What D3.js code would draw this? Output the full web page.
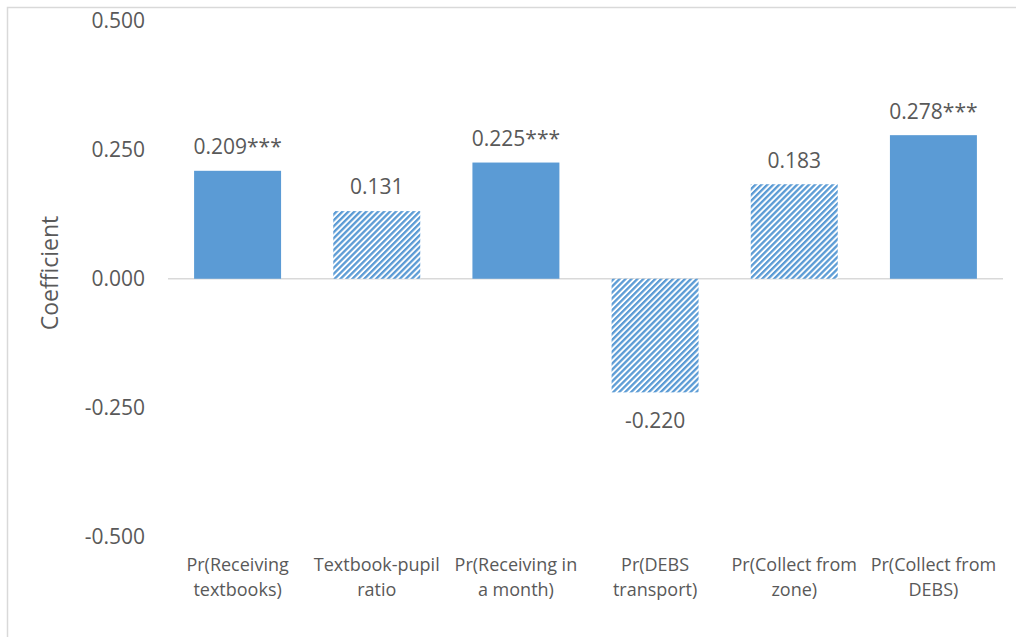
<!DOCTYPE html>
<html><head><meta charset="utf-8">
<script src="https://cdn.jsdelivr.net/npm/d3@7"></script>
<style>body{margin:0;background:#fff}svg{display:block}text{font-family:"Open Sans",sans-serif;fill:#595959}</style>
</head><body><svg id="c" width="1016" height="637"></svg>
<script>
const categories = [["Pr(Receiving","textbooks)"],["Textbook-pupil","ratio"],["Pr(Receiving in","a month)"],["Pr(DEBS","transport)"],["Pr(Collect from","zone)"],["Pr(Collect from","DEBS)"]];
const values = [0.209, 0.131, 0.225, -0.220, 0.183, 0.278];
const labels = ["0.209***","0.131","0.225***","-0.220","0.183","0.278***"];
const significant = [true,false,true,false,false,true];
const yTicks = [-0.5,-0.25,0,0.25,0.5];

const svg = d3.select("#c");
const color="#5B9BD5";
const defs=svg.append("defs");
const pat=defs.append("pattern").attr("id","hatch").attr("patternUnits","userSpaceOnUse")
  .attr("width",4.2).attr("height",10).attr("patternTransform","rotate(45)");
pat.append("rect").attr("width",4.2).attr("height",10).attr("fill","#fff");
pat.append("rect").attr("width",2.3).attr("height",10).attr("fill",color);

// outer frame
svg.append("rect").attr("x",7.5).attr("y",7.5).attr("width",1100).attr("height",800)
  .attr("fill","none").attr("stroke","#D9D9D9").attr("stroke-width",1.5);

const x=d3.scaleBand().domain(d3.range(categories.length)).range([168,1003]).paddingInner(0.375).paddingOuter(0.1875);
const y=d3.scaleLinear().domain([-0.5,0.5]).range([537,20.5]);

// zero line
svg.append("line").attr("x1",168).attr("x2",1003).attr("y1",y(0)).attr("y2",y(0))
  .attr("stroke","#D9D9D9").attr("stroke-width",1.5);

// y ticks
svg.append("g").selectAll("text").data(yTicks).join("text")
  .attr("x",145).attr("y",d=>y(d)).attr("dy","0.35em").attr("text-anchor","end")
  .style("font-size","21px").text(d=>d3.format(".3f")(d).replace("−","-"));

// bars
svg.append("g").selectAll("rect").data(values).join("rect")
  .attr("x",(d,i)=>x(i)).attr("width",x.bandwidth())
  .attr("y",d=>y(Math.max(0,d))).attr("height",d=>Math.abs(y(d)-y(0)))
  .attr("fill",(d,i)=>significant[i]?color:"url(#hatch)");

// data labels
svg.append("g").selectAll("text").data(values).join("text")
  .attr("x",(d,i)=>x(i)+x.bandwidth()/2)
  .attr("y",d=>d>=0? y(d)-24 : y(d)+28).attr("dy","0.35em").attr("text-anchor","middle")
  .style("font-size","21px").text((d,i)=>labels[i]);

// category labels
const cg=svg.append("g").selectAll("text").data(categories).join("text")
  .attr("text-anchor","middle").style("font-size","18px");
cg.each(function(lines,i){
  const t=d3.select(this);
  lines.forEach((l,j)=>t.append("tspan").attr("x",x(i)+x.bandwidth()/2).attr("y",565+25*j).attr("dy","0.35em").text(l));
});

// y title
svg.append("text").attr("transform","translate(50,273) rotate(-90)").attr("text-anchor","middle")
  .attr("dy","0.35em").style("font-size","23px").text("Coefficient");
</script></body></html>
